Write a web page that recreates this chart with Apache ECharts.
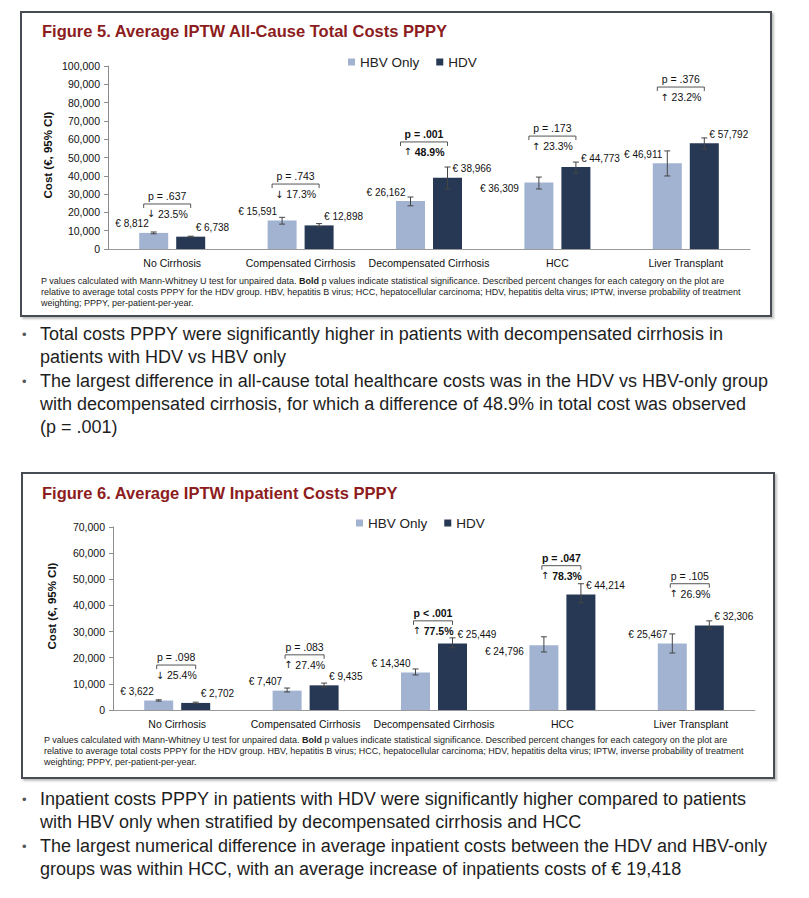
<!DOCTYPE html>
<html>
<head>
<meta charset="utf-8">
<script src="https://cdn.jsdelivr.net/npm/echarts@6/dist/echarts.min.js"></script>
<style>
  body { margin: 0; background: #fff; font-family: 'Liberation Sans', Arial, Helvetica, sans-serif; }
  #page { position: relative; width: 809px; height: 898px; overflow: hidden; }
  .box { position: absolute; border: 2px solid #474b53; box-shadow: 2px 2px 2px rgba(0,0,0,0.25); background: #fff; }
  .title { position: absolute; left: 42px; font-size: 16.5px; font-weight: bold; color: #8c1c20; line-height: 20px; white-space: nowrap; }
  .note { position: absolute; font-size: 9px; line-height: 11px; color: #222; white-space: nowrap; }
  .bullet { position: absolute; left: 40px; font-size: 18px; line-height: 23px; color: #1e1e1e; white-space: nowrap; }
  .bullet:before { content: '\2022'; position: absolute; left: -18px; top: 0; font-size: 13px; color: #555; }
  #chart { position: absolute; left: 0; top: 0; width: 809px; height: 898px; }
</style>
</head>
<body>
<div id="page">
  <div class="box" style="left:20px;top:11px;width:748px;height:302px"></div>
  <div class="box" style="left:21px;top:472px;width:750px;height:303px"></div>

  <div class="title" style="top:21px">Figure 5. Average IPTW All-Cause Total Costs PPPY</div>
  <div class="title" style="top:483px">Figure 6. Average IPTW Inpatient Costs PPPY</div>

  <div class="note" style="left:41px;top:276px">P values calculated with Mann-Whitney U test for unpaired data. <b>Bold</b> p values indicate statistical significance. Described percent changes for each category on the plot are<br>relative to average total costs PPPY for the HDV group. HBV, hepatitis B virus; HCC, hepatocellular carcinoma; HDV, hepatitis delta virus; IPTW, inverse probability of treatment<br>weighting; PPPY, per-patient-per-year.</div>
  <div class="note" style="left:44px;top:735px">P values calculated with Mann-Whitney U test for unpaired data. <b>Bold</b> p values indicate statistical significance. Described percent changes for each category on the plot are<br>relative to average total costs PPPY for the HDV group. HBV, hepatitis B virus; HCC, hepatocellular carcinoma; HDV, hepatitis delta virus; IPTW, inverse probability of treatment<br>weighting; PPPY, per-patient-per-year.</div>

  <div class="bullet" style="top:323px">Total costs PPPY were significantly higher in patients with decompensated cirrhosis in<br>patients with HDV vs HBV only</div>
  <div class="bullet" style="top:370px">The largest difference in all-cause total healthcare costs was in the HDV vs HBV-only group<br>with decompensated cirrhosis, for which a difference of 48.9% in total cost was observed<br>(p = .001)</div>
  <div class="bullet" style="top:788px">Inpatient costs PPPY in patients with HDV were significantly higher compared to patients<br>with HBV only when stratified by decompensated cirrhosis and HCC</div>
  <div class="bullet" style="top:835px">The largest numerical difference in average inpatient costs between the HDV and HBV-only<br>groups was within HCC, with an average increase of inpatients costs of € 19,418</div>

  <div id="chart"></div>
</div>
<script>
  var categories = ['No Cirrhosis', 'Compensated Cirrhosis', 'Decompensated Cirrhosis', 'HCC', 'Liver Transplant'];

  // Figure 5 - all-cause total costs
  var totalHbv = [8812, 15591, 26162, 36309, 46911];
  var totalHdv = [6738, 12898, 38966, 44773, 57792];
  var totalHbvLow = [8300, 13600, 23600, 32800, 39900];
  var totalHbvHigh = [9300, 17300, 28400, 39300, 53600];
  var totalHdvLow = [6500, 12100, 32800, 41500, 54600];
  var totalHdvHigh = [7000, 13900, 44800, 47500, 60700];
  var totalP = ['p = .637', 'p = .743', 'p = .001', 'p = .173', 'p = .376'];
  var totalChange = ['↓ 23.5%', '↓ 17.3%', '↑ 48.9%', '↑ 23.3%', '↑ 23.2%'];
  var totalSignificant = [false, false, true, false, false];
  var totalBracketAt = [24600, 35500, 58500, 61700, 88500];

  // Figure 6 - inpatient costs
  var inpHbv = [3622, 7407, 14340, 24796, 25467];
  var inpHdv = [2702, 9435, 25449, 44214, 32306];
  var inpHbvLow = [3400, 6900, 13400, 22200, 21800];
  var inpHbvHigh = [3900, 8400, 15700, 28000, 29100];
  var inpHdvLow = [2500, 8800, 23800, 41000, 31000];
  var inpHdvHigh = [3000, 10300, 27600, 48300, 34100];
  var inpP = ['p = .098', 'p = .083', 'p < .001', 'p = .047', 'p = .105'];
  var inpChange = ['↓ 25.4%', '↑ 27.4%', '↑ 77.5%', '↑ 78.3%', '↑ 26.9%'];
  var inpSignificant = [false, false, true, true, false];
  var inpBracketAt = [17200, 21100, 34100, 55200, 48300];

  var FONT = "'Liberation Sans', Arial, Helvetica, sans-serif";
  var HBV_COLOR = '#a2b3d2';
  var HDV_COLOR = '#263854';
  var BAR_W = 29;
  var BAR_GAP = 8;
  var SHIFT = (BAR_W + BAR_GAP) / 2;

  function euro(v) {
    return '€ ' + v.toLocaleString('en-US');
  }

  // error bar with small caps, drawn beside the category centre
  function errorBar(offset) {
    return function (params, api) {
      var x = api.coord([api.value(0), 0])[0] + offset;
      var y1 = api.coord([api.value(0), api.value(1)])[1];
      var y2 = api.coord([api.value(0), api.value(2)])[1];
      var st = {stroke: '#454545', lineWidth: 1};
      return {
        type: 'group',
        children: [
          {type: 'line', shape: {x1: x, y1: y1, x2: x, y2: y2}, style: st},
          {type: 'line', shape: {x1: x - 3, y1: y1, x2: x + 3, y2: y1}, style: st},
          {type: 'line', shape: {x1: x - 3, y1: y2, x2: x + 3, y2: y2}, style: st}
        ]
      };
    };
  }

  // p value over a bracket, percent change below it
  function bracket(pTexts, changes, sig, halfWidth, dx) {
    return function (params, api) {
      var i = params.dataIndex;
      var pt = api.coord([api.value(0), api.value(1)]);
      var cx = pt[0] + dx, y = pt[1];
      var st = {stroke: '#555', lineWidth: 1};
      var weight = sig[i] ? 'bold' : 'normal';
      // arrow glyph from DejaVu, it is too small in Liberation
      var chg = changes[i];
      var arrowText = '{a|' + chg.charAt(0) + '}' + chg.slice(1);
      return {
        type: 'group',
        children: [
          {type: 'line', shape: {x1: cx - halfWidth, y1: y, x2: cx + halfWidth, y2: y}, style: st},
          {type: 'line', shape: {x1: cx - halfWidth, y1: y, x2: cx - halfWidth, y2: y + 4}, style: st},
          {type: 'line', shape: {x1: cx + halfWidth, y1: y, x2: cx + halfWidth, y2: y + 4}, style: st},
          {type: 'text', style: {text: pTexts[i], x: cx, y: y - 8, align: 'center', verticalAlign: 'middle',
            fontSize: 10.5, fontFamily: FONT, fontWeight: weight, fill: '#111'}},
          {type: 'text', style: {text: arrowText, x: cx, y: y + 10, align: 'center', verticalAlign: 'middle',
            fontSize: 10.5, fontFamily: FONT, fontWeight: weight, fill: '#111',
            rich: {a: {fontFamily: "'DejaVu Sans'", fontSize: 10, fill: '#111'}}}}
        ]
      };
    };
  }

  function makeSeries(g, hbv, hdv, hbvLo, hbvHi, hdvLo, hdvHi, pTexts, changes, sig, bracketAt, halfWidth, dx) {
    var hbvData = hbv.map(function (v, i) {
      // the HCC label sits lower, left of its error bar
      var pos = i === 3 ? [BAR_W / 2 - 20, 6] : [BAR_W / 2 - 5, -9];
      return {value: v, label: {position: pos, align: 'right', verticalAlign: 'middle'}};
    });
    var hdvData = hdv.map(function (v) {
      return {value: v, label: {position: [BAR_W / 2 + 5, -9], align: 'left', verticalAlign: 'middle'}};
    });
    var lbl = {show: true, formatter: function (p) { return euro(p.value); }, fontSize: 10, color: '#111', fontFamily: FONT};
    return [
      {name: 'HBV Only', type: 'bar', xAxisIndex: g, yAxisIndex: g, barWidth: BAR_W, barGap: (BAR_GAP / BAR_W * 100) + '%',
        itemStyle: {color: HBV_COLOR}, label: lbl, data: hbvData},
      {name: 'HDV', type: 'bar', xAxisIndex: g, yAxisIndex: g, barWidth: BAR_W,
        itemStyle: {color: HDV_COLOR}, label: lbl, data: hdvData},
      {type: 'custom', xAxisIndex: g, yAxisIndex: g, z: 5, renderItem: errorBar(-SHIFT),
        data: hbv.map(function (v, i) { return [i, hbvLo[i], hbvHi[i]]; })},
      {type: 'custom', xAxisIndex: g, yAxisIndex: g, z: 5, renderItem: errorBar(SHIFT),
        data: hdv.map(function (v, i) { return [i, hdvLo[i], hdvHi[i]]; })},
      {type: 'custom', xAxisIndex: g, yAxisIndex: g, z: 5, renderItem: bracket(pTexts, changes, sig, halfWidth, dx),
        data: bracketAt.map(function (v, i) { return [i, v]; })}
    ];
  }

  function yAxis(g, max) {
    return {
      type: 'value', gridIndex: g, min: 0, max: max, interval: 10000,
      axisLine: {show: true, lineStyle: {color: '#8c8c8c'}},
      axisTick: {show: true, length: 4, lineStyle: {color: '#8c8c8c'}},
      splitLine: {show: false},
      axisLabel: {fontSize: 10.5, color: '#111', margin: 8, fontFamily: FONT,
        formatter: function (v) { return v.toLocaleString('en-US'); }}
    };
  }

  function xAxis(g) {
    return {
      type: 'category', gridIndex: g, data: categories,
      axisLine: {lineStyle: {color: '#9a9a9a'}},
      axisTick: {show: false},
      axisLabel: {fontSize: 10.5, color: '#111', margin: 8, interval: 0, fontFamily: FONT}
    };
  }

  function legend(left, top) {
    return {
      left: left, top: top, icon: 'rect', itemWidth: 7, itemHeight: 7, itemGap: 17,
      data: ['HBV Only', 'HDV'],
      textStyle: {fontSize: 13.5, color: '#222', fontFamily: FONT}
    };
  }

  function yName(x, y, text) {
    return {type: 'text', x: x, y: y, rotation: Math.PI / 2,
      style: {text: text, align: 'center', verticalAlign: 'middle', fontSize: 11.5, fontWeight: 'bold', fontFamily: FONT, fill: '#111'}};
  }

  var myChart = echarts.init(document.getElementById('chart'), null, {renderer: 'svg'});
  myChart.setOption({
    animation: false,
    textStyle: {fontFamily: FONT},
    legend: [legend(343, 50), legend(351, 511)],
    grid: [
      {left: 108, top: 66, width: 642, height: 183},
      {left: 113, top: 527, width: 642, height: 183}
    ],
    xAxis: [xAxis(0), xAxis(1)],
    yAxis: [yAxis(0, 100000), yAxis(1, 70000)],
    graphic: [yName(48, 155, 'Cost (€, 95% CI)'), yName(52, 606, 'Cost (€, 95% CI)')],
    series: [].concat(
      makeSeries(0, totalHbv, totalHdv, totalHbvLow, totalHbvHigh, totalHdvLow, totalHdvHigh,
        totalP, totalChange, totalSignificant, totalBracketAt, 23.5, -5),
      makeSeries(1, inpHbv, inpHdv, inpHbvLow, inpHbvHigh, inpHdvLow, inpHdvHigh,
        inpP, inpChange, inpSignificant, inpBracketAt, 19.5, -1)
    )
  });
</script>
</body>
</html>
